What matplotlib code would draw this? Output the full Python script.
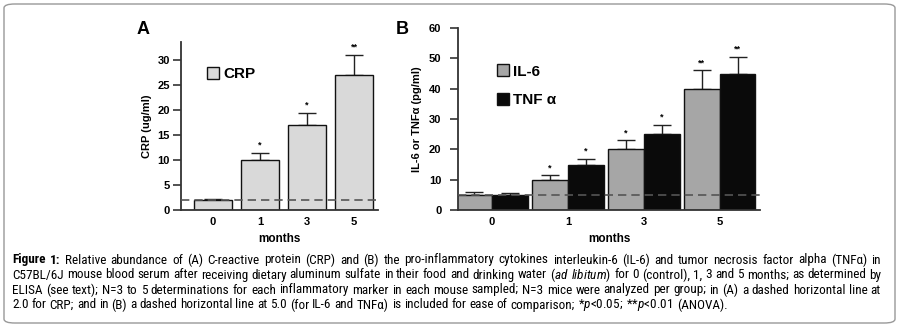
import matplotlib
matplotlib.use("Agg")
import matplotlib.pyplot as plt
from matplotlib.patches import FancyBboxPatch, Patch
from matplotlib import font_manager
import numpy as np

plt.rcParams['font.family'] = ['Liberation Sans', 'DejaVu Sans']

months = ["0", "1", "3", "5"]
crp = [2, 10, 17, 27]
crp_err = [0.3, 1.5, 2.5, 4.0]
crp_sig = ["", "*", "*", "**"]
il6 = [5, 10, 20, 40]
il6_err = [0.8, 1.5, 3.0, 6.0]
il6_sig = ["", "*", "*", "**"]
tnf = [5, 15, 25, 45]
tnf_err = [0.6, 1.8, 3.0, 5.5]
tnf_sig = ["", "*", "*", "**"]
crp_ref = 2.0
cyt_ref = 5.0

caption_head = "Figure 1:"
caption_lines = [
    "Relative abundance of (A) C-reactive protein (CRP) and (B) the pro-inflammatory cytokines interleukin-6 (IL-6) and tumor necrosis factor alpha (TNF\u03b1) in",
    "C57BL/6J mouse blood serum after receiving dietary aluminum sulfate in their food and drinking water ($\\mathit{ad}$ $\\mathit{libitum}$) for 0 (control), 1, 3 and 5 months; as determined by",
    "ELISA (see text); N=3 to 5 determinations for each inflammatory marker in each mouse sampled; N=3 mice were analyzed per group; in (A) a dashed horizontal line at",
    "2.0 for CRP; and in (B) a dashed horizontal line at 5.0 (for IL-6 and TNF\u03b1) is included for ease of comparison; *$\\mathit{p}$<0.05; **$\\mathit{p}$<0.01 (ANOVA).",
]

W, H = 899, 327
fig = plt.figure(figsize=(W / 100, H / 100), dpi=100)

def fx(px):
    return px / W

def fy(py):
    return 1 - py / H

# border
fig.patches.append(FancyBboxPatch((fx(4), fy(323)), fx(891), (319) / H,
                                  boxstyle="round,pad=0,rounding_size=0.012",
                                  transform=fig.transFigure, fill=False,
                                  edgecolor="#999999", linewidth=1.0))

spine_col = "#333333"

def style_axes(ax, pad):
    for s in ["top", "right"]:
        ax.spines[s].set_visible(False)
    for s in ["left", "bottom"]:
        ax.spines[s].set_color(spine_col)
        ax.spines[s].set_linewidth(1.3)
    ax.tick_params(axis="y", direction="out", length=6, width=1.2, color=spine_col,
                   labelsize=8, pad=pad)
    ax.tick_params(axis="x", length=0, labelsize=8, pad=5)
    for lab in ax.get_xticklabels() + ax.get_yticklabels():
        lab.set_fontweight("bold")

dash = (0, (5, 3))
cap = 6.5

# Panel A
axA = fig.add_axes([fx(181), fy(210), fx(378) - fx(181), (210 - 42) / H])
x = np.arange(len(months))
axA.bar(x, crp, width=0.81, color="#d9d9d9", edgecolor="#111111", linewidth=1.0, zorder=2)
axA.errorbar(x, crp, yerr=[np.zeros(len(crp)), crp_err], fmt="none", ecolor="#222222",
             elinewidth=1.0, capsize=cap, capthick=1.0, zorder=1)
for xi, v, e, s in zip(x, crp, crp_err, crp_sig):
    if s:
        axA.text(xi, v + e + 0.6, s, ha="center", va="bottom", fontsize=6.5, fontweight="bold")
axA.axhline(crp_ref, color="#555555", linestyle=dash, linewidth=1.2, zorder=3)
axA.set_xlim(-0.68, 3.51)
axA.set_ylim(0, 33.6)
axA.set_yticks([0, 5, 10, 15, 20, 25, 30])
axA.set_xticks(x)
axA.set_xticklabels(months)
style_axes(axA, 2)
axA.set_ylabel("CRP (ug/ml)", fontsize=8, fontweight="bold", labelpad=4)
axA.set_xlabel("months", fontsize=8.5, fontweight="bold", labelpad=4)
axA.legend(handles=[Patch(facecolor="#d9d9d9", edgecolor="#111111", label="CRP")],
           loc="upper left", bbox_to_anchor=(0.13, 0.85), frameon=False,
           prop={"size": 11, "weight": "bold"}, handlelength=0.8, handleheight=0.8,
           handletextpad=0.3, borderaxespad=0, borderpad=0)
fig.text(fx(137), fy(30), "A", fontsize=13, fontweight="bold", ha="left", va="center")

# Panel B
axB = fig.add_axes([fx(458), fy(210), fx(760) - fx(458), (210 - 28) / H])
bw = 0.47
axB.bar(x - bw / 2, il6, width=bw, color="#a6a6a6", edgecolor="#111111", linewidth=1.0, zorder=2)
axB.bar(x + bw / 2, tnf, width=bw, color="#0a0a0a", edgecolor="#111111", linewidth=1.0, zorder=2)
axB.errorbar(x - bw / 2, il6, yerr=[np.zeros(4), il6_err], fmt="none", ecolor="#222222",
             elinewidth=1.0, capsize=cap, capthick=1.0, zorder=1)
axB.errorbar(x + bw / 2, tnf, yerr=[np.zeros(4), tnf_err], fmt="none", ecolor="#222222",
             elinewidth=1.0, capsize=cap, capthick=1.0, zorder=1)
for xi, v, e, s in zip(x - bw / 2, il6, il6_err, il6_sig):
    if s:
        axB.text(xi, v + e + 1.0, s, ha="center", va="bottom", fontsize=6.5, fontweight="bold")
for xi, v, e, s in zip(x + bw / 2, tnf, tnf_err, tnf_sig):
    if s:
        axB.text(xi, v + e + 1.0, s, ha="center", va="bottom", fontsize=6.5, fontweight="bold")
axB.axhline(cyt_ref, color="#555555", linestyle=dash, linewidth=1.2, zorder=3)
axB.set_xlim(-0.447, 3.53)
axB.set_ylim(0, 60)
axB.set_yticks([0, 10, 20, 30, 40, 50, 60])
axB.set_xticks(x)
axB.set_xticklabels(months)
style_axes(axB, 6)
axB.set_ylabel("IL-6 or TNF\u03b1 (pg/ml)", fontsize=8, fontweight="bold", labelpad=5)
axB.set_xlabel("months", fontsize=8.5, fontweight="bold", labelpad=4)
axB.legend(handles=[Patch(facecolor="#a6a6a6", edgecolor="#111111", label="IL-6"),
                    Patch(facecolor="#0a0a0a", edgecolor="#111111", label="TNF \u03b1")],
           loc="upper left", bbox_to_anchor=(0.128, 0.80), frameon=False,
           prop={"size": 11, "weight": "bold"}, handlelength=0.8, handleheight=0.8,
           handletextpad=0.3, labelspacing=0.95, borderaxespad=0, borderpad=0)
fig.text(fx(396), fy(30), "B", fontsize=13, fontweight="bold", ha="left", va="center")

# caption font: prefer a narrow sans
names = {f.name for f in font_manager.fontManager.ttflist}
cap_font = "Liberation Sans"
for cand in ["Liberation Sans Narrow", "Arial Narrow", "Roboto Condensed",
             "DejaVu Sans Condensed", "Open Sans Condensed", "Noto Sans Condensed"]:
    if cand in names:
        cap_font = cand
        break
cap_family = [cap_font, "DejaVu Sans"]
plt.rcParams['mathtext.fontset'] = 'custom'
plt.rcParams['mathtext.rm'] = cap_font
plt.rcParams['mathtext.it'] = cap_font + ':italic'
plt.rcParams['mathtext.bf'] = cap_font + ':bold'

renderer = fig.canvas.get_renderer()

def width_of(s, size, weight="normal"):
    t = fig.text(0, 0, s, fontsize=size, family=cap_family, fontweight=weight)
    w = t.get_window_extent(renderer).width
    t.remove()
    return w

def adv(s, size, weight="normal"):
    # advance width, independent of the ink side bearings
    return width_of("x" + s + "x", size, weight) - width_of("xx", size, weight)

word_lines = []
for li, line in enumerate(caption_lines):
    ws = [(w, "normal") for w in line.split(" ")]
    if li == 0:
        ws = [(w, "bold") for w in caption_head.split(" ")] + ws
    word_lines.append(ws)

def space_w(size):
    return width_of("x x", size) - width_of("xx", size)

base = 8.2
nat = []
for ws in word_lines:
    nat.append(sum(adv(w, base, wt) for w, wt in ws) + space_w(base) * (len(ws) - 1))
x0, x1 = 12.0, 881.0
target = x1 - x0
size = base * target / max(nat)

ys = [260, 275, 290, 305]
sp_nat = space_w(size)
for li, (ws, yy) in enumerate(zip(word_lines, ys)):
    widths = [adv(w, size, wt) for w, wt in ws]
    sp = sp_nat
    if li < len(word_lines) - 1:
        sp = (target - sum(widths)) / (len(ws) - 1)
    xpos = x0
    for (w, wt), ww in zip(ws, widths):
        fig.text(fx(xpos), fy(yy), w, ha="left", va="center", fontsize=size,
                 family=cap_family, fontweight=wt)
        xpos += ww + sp

fig.savefig("out.png", dpi=100)
